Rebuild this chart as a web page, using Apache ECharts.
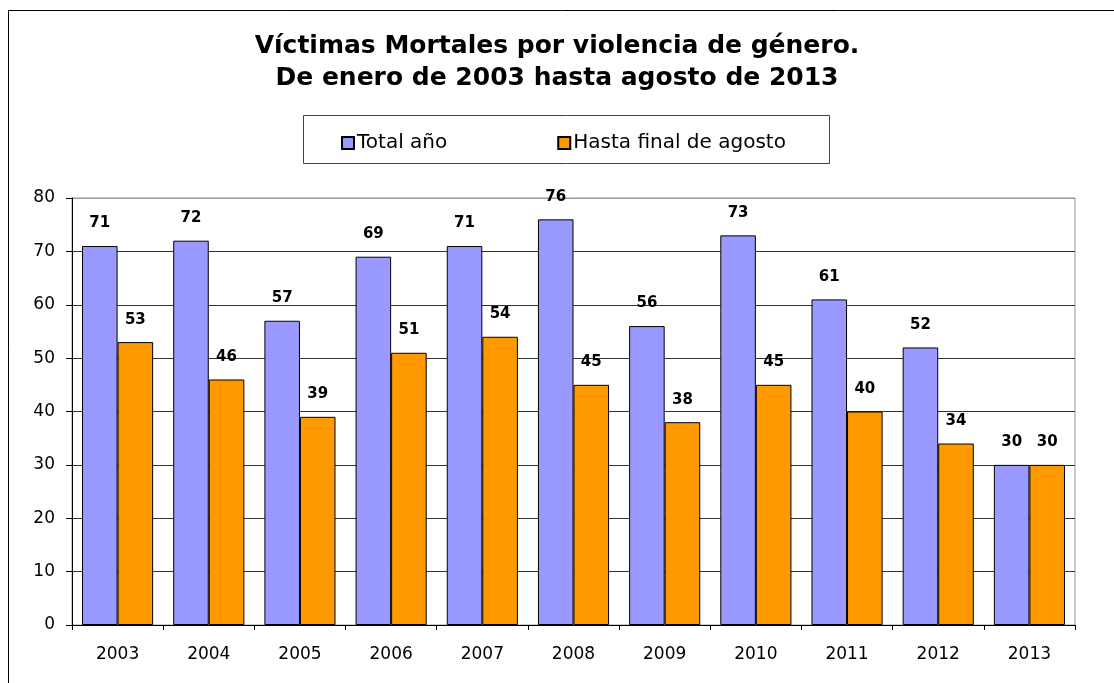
<!DOCTYPE html>
<html>
<head>
<meta charset="utf-8">
<script src="https://cdn.jsdelivr.net/npm/echarts@6/dist/echarts.min.js"></script>
<style>html,body{margin:0;padding:0;background:#fff;}#c{width:1114px;height:683px;}</style>
</head>
<body>
<div id="c"></div>
<script>
const categories = ['2003','2004','2005','2006','2007','2008','2009','2010','2011','2012','2013'];
const totalAnio = [71,72,57,69,71,76,56,73,61,52,30];
const hastaAgosto = [53,46,39,51,54,45,38,45,40,34,30];
const seriesNames = ['Total año','Hasta final de agosto'];
const titleLines = ['Víctimas Mortales por violencia de género.','De enero de 2003 hasta agosto de 2013'];

const chart = echarts.init(document.getElementById('c'), null, {renderer:'canvas'});
const labelCfg = {
  show: true, position: 'top', distance: 15, color: '#000',
  fontFamily: 'DejaVu Sans', fontWeight: 'bold', fontSize: 15
};
chart.setOption({
  backgroundColor: '#fff',
  animation: false,
  title: {
    text: titleLines.join('\n'),
    left: 'center', top: 30, padding: 0,
    textStyle: {fontFamily: 'DejaVu Sans', fontWeight: 'bold', fontSize: 25, lineHeight: 32, color: '#000'}
  },
  graphic: [
    {type: 'rect', shape: {x: 8.5, y: 10.5, width: 1200, height: 800}, style: {fill: 'none', stroke: '#000', lineWidth: 1}, silent: true, z: -10},
    {type: 'rect', shape: {x: 303.5, y: 115.5, width: 526, height: 48}, style: {fill: '#fff', stroke: '#444', lineWidth: 1}, silent: true, z: -5}
  ],
  legend: {
    left: 341, top: 133, padding: 0, itemGap: 110,
    itemWidth: 12, itemHeight: 12, icon: 'rect',
    textStyle: {fontFamily: 'DejaVu Sans', fontSize: 20, color: '#000', padding: [0,0,0,-2]},
    data: seriesNames
  },
  grid: {left: 72, right: 39, top: 198, bottom: 58, show: true, borderColor: '#999', borderWidth: 1, backgroundColor: 'transparent'},
  xAxis: {
    type: 'category', data: categories,
    axisLine: {lineStyle: {color: '#000', width: 1}},
    axisTick: {show: true, alignWithLabel: false, length: 5, lineStyle: {color: '#000'}},
    axisLabel: {fontFamily: 'DejaVu Sans', fontSize: 17, color: '#000', margin: 21}
  },
  yAxis: {
    type: 'value', min: 0, max: 80, interval: 10,
    axisLine: {show: true, lineStyle: {color: '#000', width: 1}},
    axisTick: {show: true, length: 6, lineStyle: {color: '#000'}},
    axisLabel: {fontFamily: 'DejaVu Sans', fontSize: 17, color: '#000', margin: 17},
    splitLine: {show: true, lineStyle: {color: ['#000','#333','#333','#333','#333','#333','#333','#333','#999'], width: 1}}
  },
  series: [
    {name: seriesNames[0], type: 'bar', data: totalAnio, barGap: '0%', barCategoryGap: '22%',
     itemStyle: {color: '#9999FF', borderColor: '#000', borderWidth: 1}, label: labelCfg},
    {name: seriesNames[1], type: 'bar', data: hastaAgosto, barGap: '0%', barCategoryGap: '22%',
     itemStyle: {color: '#FF9900', borderColor: '#000', borderWidth: 1}, label: labelCfg}
  ]
});
</script>
</body>
</html>
